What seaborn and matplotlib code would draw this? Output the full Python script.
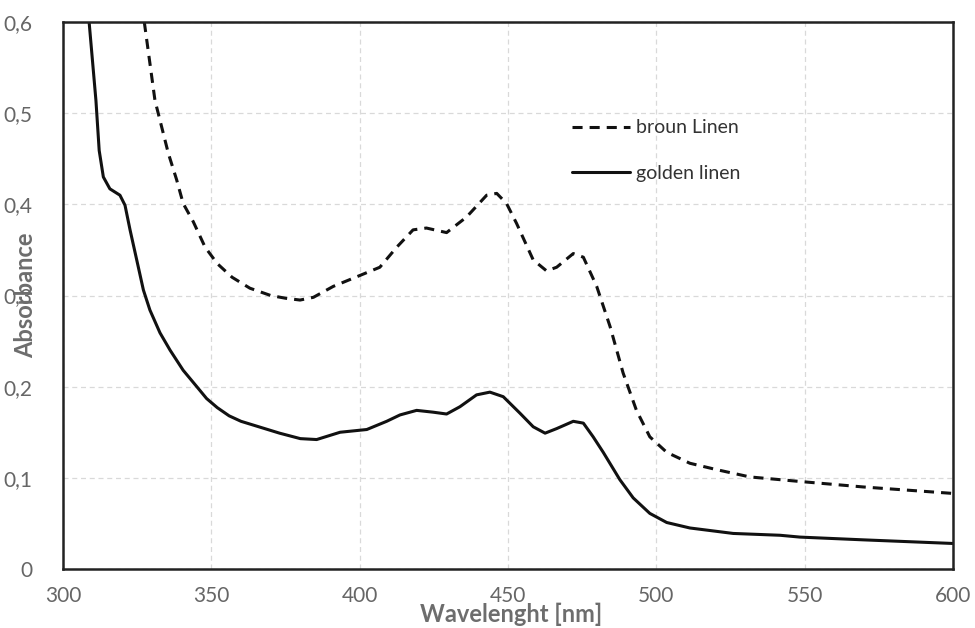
import matplotlib
matplotlib.use("Agg")
import matplotlib.pyplot as plt
import seaborn as sns
import pandas as pd

# ---- data ----
wl_golden = [308.8, 311.1, 312.2, 313.6, 315.8, 319.2, 320.9, 322.6, 325.4, 327.1,
             329.3, 332.7, 336.1, 340.5, 345.1, 348.4, 352, 356, 360, 366, 373, 380,
             385.5, 393.4, 402.4, 409.1, 413.6, 419.2, 424.8, 429.3, 433.8, 439.4,
             443.9, 448.4, 454.0, 458.5, 462.5, 466.4, 472.0, 475.4, 478.7, 482.1,
             487.7, 492.2, 497.8, 503.5, 511.3, 525.9, 541.7, 548.4, 569.6, 600]
abs_golden = [0.600, 0.514, 0.459, 0.430, 0.417, 0.410, 0.399, 0.372, 0.331, 0.306,
              0.284, 0.259, 0.240, 0.218, 0.200, 0.187, 0.177, 0.168, 0.162, 0.156, 0.149, 0.143,
              0.142, 0.150, 0.153, 0.162, 0.169, 0.174, 0.172, 0.170, 0.178, 0.191,
              0.194, 0.189, 0.171, 0.156, 0.149, 0.154, 0.162, 0.160, 0.145, 0.128,
              0.098, 0.078, 0.061, 0.051, 0.045, 0.039, 0.037, 0.035, 0.032, 0.028]

wl_broun = [327.4, 331.0, 335.5, 338.3, 340.5, 343.9, 347.9, 352, 357, 363, 370, 375,
            379.9, 384.4, 391.1, 400.1, 406.8, 412.5, 418.0, 422.5, 429.3, 436.0,
            442.8, 446.2, 449.5, 452.9, 458.5, 463.0, 466.4, 472.0, 475.4, 479.9,
            484.4, 488.8, 493.3, 497.8, 503.5, 511.3, 520.3, 531.5, 548.4, 569.7, 599.5]
abs_broun = [0.600, 0.514, 0.456, 0.427, 0.401, 0.381, 0.353, 0.335, 0.320, 0.308, 0.300, 0.297,
             0.295, 0.298, 0.310, 0.322, 0.331, 0.353, 0.372, 0.374, 0.369, 0.386,
             0.410, 0.412, 0.401, 0.379, 0.339, 0.327, 0.331, 0.346, 0.342, 0.310,
             0.266, 0.215, 0.174, 0.145, 0.128, 0.116, 0.109, 0.101, 0.096, 0.090, 0.083]

x_ticks = [300, 350, 400, 450, 500, 550, 600]
y_ticks = [0, 0.1, 0.2, 0.3, 0.4, 0.5, 0.6]
y_tick_labels = ["0", "0,1", "0,2", "0,3", "0,4", "0,5", "0,6"]
series_names = ["broun Linen", "golden linen"]

sns.set_theme(style="white")
plt.rcParams["font.family"] = ["Lato", "DejaVu Sans"]

fig = plt.figure(figsize=(9.75, 6.28), dpi=100)
ax = fig.add_axes([63 / 975, 1 - 569 / 628, 890 / 975, 547 / 628])

df_b = pd.DataFrame({"wl": wl_broun, "A": abs_broun})
df_g = pd.DataFrame({"wl": wl_golden, "A": abs_golden})

lw = 2.2
sns.lineplot(data=df_b, x="wl", y="A", ax=ax, color="#111111", linewidth=lw,
             dashes=False, sort=False, label=series_names[0])
ax.lines[-1].set_dashes((3.3, 2.3))
sns.lineplot(data=df_g, x="wl", y="A", ax=ax, color="#111111", linewidth=lw,
             sort=False, label=series_names[1])

ax.set_xlim(300, 600)
ax.set_ylim(0, 0.6)
ax.set_xticks(x_ticks)
ax.set_xticklabels([str(t) for t in x_ticks])
ax.set_yticks(y_ticks)
ax.set_yticklabels(y_tick_labels)

ax.grid(True, color="#d9d9d9", linestyle=(0, (4, 3)), linewidth=0.9)
ax.set_axisbelow(True)
for s in ax.spines.values():
    s.set_visible(True)
    s.set_color("#222222")
    s.set_linewidth(1.8)

ax.tick_params(axis="both", length=0, labelsize=15, labelcolor="#666666")
ax.tick_params(axis="y", pad=22)
ax.tick_params(axis="x", pad=12)

ax.set_xlabel("Wavelenght [nm]", fontsize=17, fontweight="bold", color="#6d6d6d")
ax.set_ylabel("Absorbance", fontsize=17, fontweight="bold", color="#6d6d6d")
ax.xaxis.set_label_coords(0.503, -0.062)
ax.yaxis.set_label_coords(-0.029, 0.5)

leg = ax.legend(loc="upper left", bbox_to_anchor=(0.572, 0.822), frameon=False,
                fontsize=14, handlelength=3.0, handletextpad=0.3,
                labelspacing=1.45, borderpad=0, borderaxespad=0)
for t in leg.get_texts():
    t.set_color("#333333")

fig.savefig("out.png", dpi=100)
